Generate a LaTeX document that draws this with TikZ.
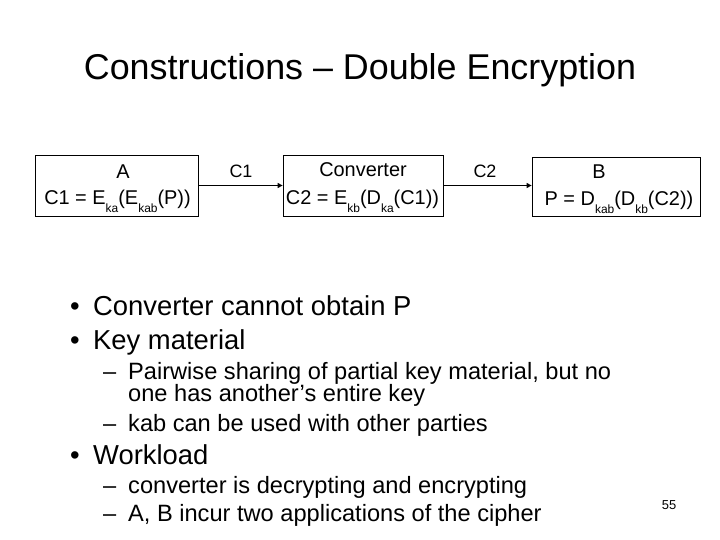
\documentclass[tikz,border=0pt]{standalone}
\usepackage{fontspec}
\setmainfont{Liberation Sans}
\usetikzlibrary{arrows.meta}
\newcommand\sbx[1]{\raisebox{-0.38em}{\fontsize{12}{12}\selectfont #1}}
\begin{document}
\begin{tikzpicture}[x=1bp,y=-1bp,
  box/.style={draw, line width=0.8pt, inner sep=0pt},
  boxtxt/.style={anchor=base, inner sep=0pt, font=\fontsize{20}{24}\selectfont},
  lbl/.style={anchor=base, inner sep=0pt, font=\fontsize{18}{22}\selectfont},
  flow/.style={line width=1.2pt, -{Triangle[length=5bp,width=5bp]}},
  ttl/.style={anchor=base, inner sep=0pt, font=\fontsize{36}{42}\selectfont},
  main/.style={anchor=base west, inner sep=0pt, font=\fontsize{27.5}{32}\selectfont},
  sub/.style={anchor=base west, inner sep=0pt, font=\fontsize{23.7}{28}\selectfont},
  pgnum/.style={anchor=base, inner sep=0pt, font=\fontsize{13}{15}\selectfont}]
\useasboundingbox (0,0) rectangle (720,540);
\fill[white] (0,0) rectangle (720,540);

\node[ttl] (title) at (360,80) {Constructions -- Double Encryption};

% boxes
\node[box, minimum width=163bp, minimum height=61bp] (boxA) at (116.5,185.5) {};
\node[box, minimum width=160bp, minimum height=61bp] (boxC) at (363,185.5) {};
\node[box, minimum width=168bp, minimum height=59bp] (boxB) at (616,186.5) {};

\node[boxtxt] (tA) at (123,179) {A};
\node[boxtxt] (eA) at (117.5,205) {C1 = E\sbx{ka}(E\sbx{kab}(P))};
\node[boxtxt] (tC) at (363,177) {Converter};
\node[boxtxt] (eC) at (362.5,205) {C2 = E\sbx{kb}(D\sbx{ka}(C1))};
\node[boxtxt] (tB) at (599,179) {B};
\node[boxtxt] (eB) at (619,206) {P = D\sbx{kab}(D\sbx{kb}(C2))};

\draw[flow] (boxA.east) -- (boxC.west);
\draw[flow] (boxC.east) -- (boxC.east -| boxB.west);
\node[lbl] (c1) at (241,178) {C1};
\node[lbl] (c2) at (485,178) {C2};

% bullets
\node[main] (b1) at (70,315) {\textbullet};
\node[main] (l1) at (93,315) {Converter cannot obtain P};
\node[main] (b2) at (70,349) {\textbullet};
\node[main] (l2) at (93,349) {Key material};
\node[sub] (d1) at (103,379) {--};
\node[sub] (s1) at (128,379) {Pairwise sharing of partial key material, but no};
\node[sub] (s1b) at (128,401) {one has another’s entire key};
\node[sub] (d2) at (103,431) {--};
\node[sub] (s2) at (128,431) {kab can be used with other parties};
\node[main] (b3) at (70,464) {\textbullet};
\node[main] (l3) at (93,464) {Workload};
\node[sub] (d3) at (103,493) {--};
\node[sub] (s3) at (128,493) {converter is decrypting and encrypting};
\node[sub] (d4) at (103,521) {--};
\node[sub] (s4) at (128,521) {A, B incur two applications of the cipher};

\node[pgnum] (pg) at (669,509) {55};
\end{tikzpicture}
\end{document}
